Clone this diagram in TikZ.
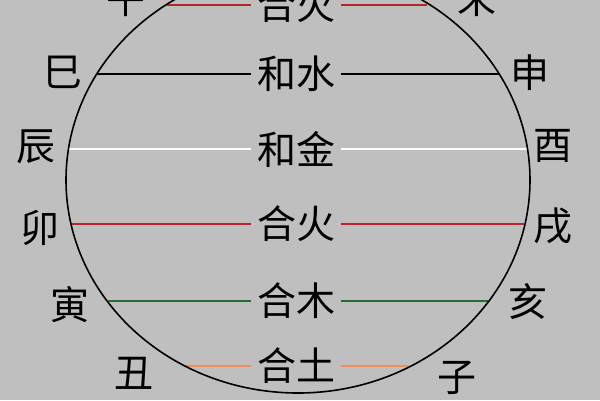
\documentclass[tikz,border=0pt]{standalone}
\usepackage{fontspec}
\newfontfamily\cjk{Noto Sans CJK SC}
\usepackage{tikz}
\usetikzlibrary{positioning}

\definecolor{bggray}{RGB}{191,191,191}
\definecolor{firered}{RGB}{185,35,45}
\definecolor{woodgreen}{RGB}{40,105,60}
\definecolor{earthorange}{RGB}{232,145,95}

\begin{document}
\begin{tikzpicture}[x=1pt,y=-1pt]

  \tikzstyle{branch} = [font=\cjk\fontsize{39}{39}\selectfont, inner sep=0pt, text=black]
  \tikzstyle{pair} = [branch, inner sep=6pt]
  \tikzstyle{tie} = [line width=2pt]

  \fill[bggray] (0,0) rectangle (600,400);
  \useasboundingbox (0,0) rectangle (600,400);

  % branches round the circle
  \node (wu)   [branch] at (126,-1) {午};
  \node (wei)  [branch] at (477,-1) {未};
  \node (si)   [branch] at (63,72) {巳};
  \node (shen) [branch] at (530,73) {申};
  \node (chen) [branch] at (36,147) {辰};
  \node (you)  [branch] at (553,146) {酉};
  \node (mao)  [branch] at (40,228) {卯};
  \node (xu)   [branch] at (553,226) {戌};
  \node (yin)  [branch] at (70,305) {寅};
  \node (hai)  [branch] at (528,302) {亥};
  \node (chou) [branch] at (134,373) {丑};
  \node (zi)   [branch] at (457,378) {子};

  % combinations in the middle
  \node (huoA) [pair] at (296,5) {合火};
  \node (shui) [pair] at (296,74) {和水};
  \node (jin)  [pair] at (296,149) {和金};
  \node (huoB) [pair] at (296,224) {合火};
  \node (mu)   [pair] at (296,301) {合木};
  \node (tu)   [pair] at (296,366) {合土};

  % ends on the circle
  \coordinate (wuEnd)   at (167,5);
  \coordinate (weiEnd)  at (427,5);
  \coordinate (siEnd)   at (97,74);
  \coordinate (shenEnd) at (499,74);
  \coordinate (chenEnd) at (69,149);
  \coordinate (youEnd)  at (527,149);
  \coordinate (maoEnd)  at (71,224);
  \coordinate (xuEnd)   at (524,224);
  \coordinate (yinEnd)  at (108,301);
  \coordinate (haiEnd)  at (488,301);
  \coordinate (chouEnd) at (184,366);
  \coordinate (ziEnd)   at (408,366);

  \draw [tie, firered] (wuEnd) -- (huoA.west);
  \draw [tie, firered] (huoA.east) -- (weiEnd);
  \draw [tie, black] (siEnd) -- (shui.west);
  \draw [tie, black] (shui.east) -- (shenEnd);
  \draw [tie, white] (chenEnd) -- (jin.west);
  \draw [tie, white] (jin.east) -- (youEnd);
  \draw [tie, firered] (maoEnd) -- (huoB.west);
  \draw [tie, firered] (huoB.east) -- (xuEnd);
  \draw [tie, woodgreen] (yinEnd) -- (mu.west);
  \draw [tie, woodgreen] (mu.east) -- (haiEnd);
  \draw [tie, earthorange] (chouEnd) -- (tu.west);
  \draw [tie, earthorange] (tu.east) -- (ziEnd);

  \draw [line width=1.6pt] (298,180) ellipse [x radius=232pt, y radius=213pt];

\end{tikzpicture}
\end{document}
